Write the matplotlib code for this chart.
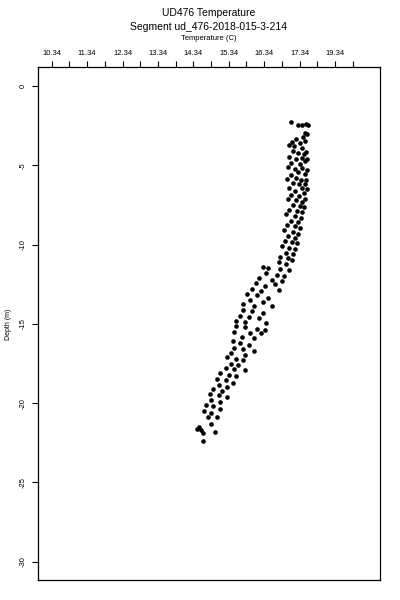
import numpy as np
import matplotlib
matplotlib.use("Agg")
import matplotlib.pyplot as plt

# temperature (C) and depth (m)
temperature = [
    17.10, 17.30, 17.42, 17.52, 17.58, 17.48, 17.55,
    17.43, 17.12, 17.25, 17.05, 17.35, 17.50, 17.40, 17.18,
    17.15, 17.30, 17.45, 17.52, 17.05, 17.25, 17.40, 17.55, 17.10, 17.35, 17.48,
    17.00, 17.20, 17.42, 17.55, 17.30, 17.10, 17.48, 17.25, 17.38, 16.98, 17.52,
    17.15, 17.32, 17.48, 17.05, 17.40, 17.55, 17.22, 17.45, 17.10, 17.33,
    17.00, 17.25, 17.42, 17.50, 17.15, 17.35, 17.45, 17.05, 17.28, 17.40,
    16.95, 17.20, 17.38, 17.10, 17.30, 16.98, 17.22, 17.35,
    16.90, 17.15, 17.30, 17.00, 17.22, 16.92, 17.12, 17.28,
    16.85, 17.05, 17.20, 16.95, 17.15, 16.80, 17.00, 17.12,
    16.75, 16.95, 16.30, 16.45, 16.80, 17.05, 16.40, 16.70, 16.90,
    16.20, 16.55, 16.85, 16.10, 16.35, 16.65, 16.00, 16.25, 16.75,
    15.85, 16.15, 16.45, 15.95, 16.30, 15.75, 16.05, 16.55,
    15.75, 16.00, 16.30, 15.65, 15.90, 16.20, 15.55, 15.80, 16.40,
    15.55, 15.80, 16.15, 15.50, 15.95, 16.25, 15.70, 16.05, 16.35,
    15.45, 15.65, 15.90, 15.50, 15.75, 16.05, 15.40, 15.80,
    15.30, 15.55, 15.75, 15.40, 15.60, 15.25, 15.50, 15.80,
    15.10, 15.35, 15.55, 15.00, 15.25, 15.45, 15.05, 15.30,
    14.90, 15.15, 14.80, 15.05, 15.30, 14.85, 15.10,
    14.70, 14.90, 15.10, 14.65, 14.85, 14.75, 15.00,
    14.50, 14.55, 14.60, 14.45, 14.85, 14.95, 14.60,
]
depth = [
    -2.25, -2.45, -2.45, -2.42, -2.45, -2.95, -3.00,
    -3.20, -3.50, -3.35, -3.70, -3.60, -3.45, -3.90, -3.80,
    -4.10, -4.20, -4.30, -4.15, -4.45, -4.60, -4.55, -4.60, -4.85, -4.90, -4.75,
    -5.10, -5.20, -5.15, -5.30, -5.45, -5.60, -5.55, -5.80, -5.90, -5.85, -5.95,
    -6.10, -6.20, -6.15, -6.40, -6.45, -6.50, -6.60, -6.75, -6.85, -6.95,
    -7.10, -7.20, -7.30, -7.15, -7.50, -7.55, -7.65, -7.80, -7.90, -7.95,
    -8.10, -8.20, -8.30, -8.50, -8.55, -8.75, -8.80, -8.95,
    -9.10, -9.20, -9.30, -9.45, -9.60, -9.75, -9.85, -9.90,
    -10.10, -10.20, -10.30, -10.50, -10.60, -10.75, -10.85, -10.95,
    -11.10, -11.20, -11.40, -11.50, -11.55, -11.60, -11.80, -11.90, -11.95,
    -12.10, -12.20, -12.30, -12.45, -12.60, -12.50, -12.80, -12.90, -12.85,
    -13.10, -13.20, -13.35, -13.50, -13.60, -13.75, -13.85, -13.90,
    -14.10, -14.20, -14.30, -14.50, -14.55, -14.65, -14.80, -14.90, -14.95,
    -15.10, -15.20, -15.30, -15.50, -15.55, -15.60, -15.80, -15.90, -15.40,
    -16.10, -16.20, -16.30, -16.50, -16.60, -16.70, -16.85, -16.95,
    -17.10, -17.20, -17.30, -17.50, -17.60, -17.75, -17.85, -17.90,
    -18.10, -18.20, -18.30, -18.50, -18.55, -18.70, -18.85, -18.95,
    -19.10, -19.20, -19.45, -19.50, -19.60, -19.80, -19.90,
    -20.10, -20.20, -20.35, -20.50, -20.60, -20.85, -20.90,
    -21.50, -21.70, -21.90, -21.60, -21.30, -21.80, -22.40,
]

x_ticks = [10.34, 11.34, 12.34, 13.34, 14.34, 15.34, 16.34, 17.34, 18.34]
x_minor = [10.84, 11.84, 12.84, 13.84, 14.84, 15.84, 16.84, 17.84, 18.84]
x_labels = ["10.34", "11.34", "12.34", "13.34", "14.34", "15.34", "16.34", "17.34", "19.34"]
y_ticks = [0, -5, -10, -15, -20, -25, -30]

plt.rcParams['font.family'] = ['Liberation Sans', 'DejaVu Sans']

fig = plt.figure(figsize=(4, 6), dpi=100)
ax = fig.add_axes([0.095, 0.0333, 0.855, 0.855])

ax.scatter(temperature, depth, s=11, color="black", linewidths=0)

ax.set_xlim(9.953, 19.61)
ax.set_ylim(-31.15, 1.2)

ax.xaxis.tick_top()
ax.set_xticks(x_ticks)
ax.set_xticklabels(x_labels)
ax.set_xticks(x_minor, minor=True)
ax.set_yticks(y_ticks)
ax.set_yticklabels([str(v) for v in y_ticks], rotation=90, va="center")

ax.tick_params(axis="x", which="both", length=4, width=0.8, direction="out", labelsize=5.5, pad=3)
ax.tick_params(axis="y", length=4, width=0.8, direction="out", labelsize=5.5, pad=4)
for sp in ax.spines.values():
    sp.set_linewidth(0.9)

fig.text(0.5225, 0.979, "UD476 Temperature", ha="center", va="center", fontsize=7.5)
fig.text(0.5225, 0.955, "Segment ud_476-2018-015-3-214", ha="center", va="center", fontsize=7.5)
fig.text(0.5225, 0.935, "Temperature (C)", ha="center", va="center", fontsize=5.5)
fig.text(0.02, 0.46, "Depth (m)", ha="center", va="center", rotation=90, fontsize=5)

plt.savefig("out.png", dpi=100)
